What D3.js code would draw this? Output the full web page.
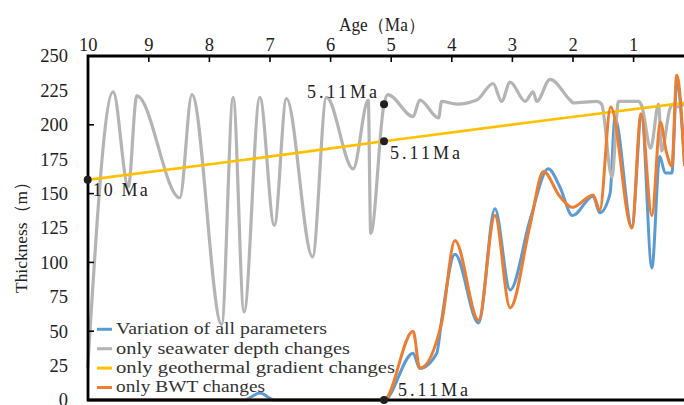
<!DOCTYPE html>
<html>
<head>
<meta charset="utf-8">
<script src="https://cdn.jsdelivr.net/npm/d3@7"></script>
<style>
  body { margin: 0; background: #fff; }
  svg { display: block; font-family: "Liberation Serif", "Times New Roman", serif; }
</style>
</head>
<body>
<svg id="chart" width="684" height="405"></svg>
<script>
// tick labels
const ageTicks = [10, 9, 8, 7, 6, 5, 4, 3, 2, 1];
const thicknessTicks = [0, 25, 50, 75, 100, 125, 150, 175, 200, 225, 250];
const innerTicks = [50, 100, 150, 200];

// Variation of all parameters (age in Ma, thickness in m)
const allAge = [10, 7.42, 7.16, 6.92, 5.11, 4.63, 4.52, 4.24, 4.16, 3.94, 3.55, 3.28, 3.03, 2.70, 2.40, 2.21, 2.00,
  1.66, 1.55, 1.38, 1.30, 1.02, 0.86, 0.69, 0.56, 0.47, 0.36, 0.28, 0.15];
const allVal = [0, 0, 5, 0, 0, 34, 23, 34, 58, 106, 56, 139, 80, 131, 168, 155, 134,
  148, 136, 150, 205, 126, 207, 96, 177, 165, 165, 230, 170];

// only seawater depth changes
const seaAge = [10, 9.58, 9.33, 9.19, 8.48, 8.28, 7.79, 7.60, 7.42, 7.16, 6.92, 6.72, 6.29, 6.06, 5.62, 5.37, 5.33,
  5.11, 5.05, 4.63, 4.52, 4.21, 4.16, 3.91, 3.58, 3.31, 3.17, 3.03, 2.78, 2.65, 2.59, 2.37, 2.04, 1.99,
  1.60, 1.52, 1.35, 1.24, 0.91, 0.86, 0.71, 0.58, 0.53, 0.39, 0.34, 0.28, 0.15];
const seaVal = [23, 224, 155, 221, 147, 222, 55, 220, 64, 220, 127, 219, 104, 220, 168, 218, 121,
  215, 222, 206, 218, 205, 217, 215, 218, 230, 217, 231, 217, 224, 217, 233, 218, 216,
  217, 215, 162, 217, 217, 214, 183, 215, 181, 212, 215, 213, 215];

// only geothermal gradient changes
const geoAge = [10, 7.5, 5.11, 2.5, 0.15];
const geoVal = [160, 174, 188, 203, 216];

// only BWT changes
const bwtAge = [10, 5.11, 4.63, 4.52, 4.16, 3.94, 3.55, 3.28, 3.03, 2.70, 2.48, 2.21, 2.00,
  1.66, 1.55, 1.37, 1.02, 0.87, 0.69, 0.55, 0.45, 0.36, 0.28, 0.15];
const bwtVal = [0, 0, 50, 23, 56, 116, 58, 134, 67, 127, 166, 148, 140,
  149, 138, 213, 125, 208, 134, 202, 180, 170, 236, 170];

// marked points
const markAge = [10, 5.11, 5.11, 5.11];
const markVal = [160, 215, 188, 0];
const markText = ["10 Ma", "5.11Ma", "5.11Ma", "5.11Ma"];

const legendNames = ["Variation of all parameters", "only  seawater depth  changes",
  "only  geothermal  gradient  changes", "only BWT changes"];
const colors = ["#5b9bd5", "#b4b4b4", "#ffc000", "#ed7d31"];

const series = [
  { age: allAge, val: allVal, color: colors[0], w: 3 },
  { age: seaAge, val: seaVal, color: colors[1], w: 3.2 },
  { age: geoAge, val: geoVal, color: colors[2], w: 2.6 },
  { age: bwtAge, val: bwtVal, color: colors[3], w: 3 }
];

const svg = d3.select("#chart");
const plotLeft = 88, plotTop = 56, plotBottom = 400, plotRight = 684;

const x = d3.scaleLinear().domain([10, 0]).range([87.7, 693.7]);
const y = d3.scaleLinear().domain([0, 250]).range([plotBottom, plotTop]);

// curves
const line = d3.line()
  .x(d => x(d[0]))
  .y(d => y(d[1]))
  .curve(d3.curveMonotoneX);

series.forEach(s => {
  svg.append("path")
    .datum(s.age.map((a, i) => [a, s.val[i]]))
    .attr("d", line)
    .attr("fill", "none")
    .attr("stroke", s.color)
    .attr("stroke-width", s.w)
    .attr("stroke-linejoin", "round");
});

// frame
svg.append("path")
  .attr("d", `M${plotRight + 5},${plotTop}H${plotLeft}V${plotBottom}H${plotRight + 5}`)
  .attr("fill", "none")
  .attr("stroke", "#000")
  .attr("stroke-width", 2.8);

// top axis
const xAxis = d3.axisTop(x).tickValues(ageTicks).tickSize(-6).tickPadding(5).tickFormat(d3.format("d"));
const gx = svg.append("g").attr("transform", `translate(0,${plotTop})`).call(xAxis);
gx.select(".domain").remove();
gx.attr("font-family", null).attr("font-size", 18.5);
gx.selectAll(".tick line").attr("stroke", "#000").attr("stroke-width", 1.6);
gx.selectAll("text").attr("fill", "#222");

// left axis labels
const yAxis = d3.axisLeft(y).tickValues(thicknessTicks).tickSize(0).tickPadding(20);
const gy = svg.append("g").attr("transform", `translate(${plotLeft},0)`).call(yAxis);
gy.select(".domain").remove();
gy.attr("font-family", null).attr("font-size", 18.5);
gy.selectAll("text").attr("fill", "#222");

// inner ticks on the left axis
svg.append("g").selectAll("line")
  .data(innerTicks)
  .join("line")
  .attr("x1", plotLeft).attr("x2", plotLeft + 6)
  .attr("y1", d => y(d)).attr("y2", d => y(d))
  .attr("stroke", "#000").attr("stroke-width", 1.6);

// axis titles
svg.append("text")
  .attr("x", 382).attr("y", 31)
  .attr("text-anchor", "middle")
  .attr("font-size", 18).attr("fill", "#222")
  .attr("textLength", 86).attr("lengthAdjust", "spacingAndGlyphs")
  .text("Age（Ma）");

svg.append("text")
  .attr("transform", "translate(27,233) rotate(-90)")
  .attr("text-anchor", "middle")
  .attr("font-size", 17.5).attr("fill", "#222")
  .attr("textLength", 120).attr("lengthAdjust", "spacingAndGlyphs")
  .text("Thickness（m）");

// marked points and their labels
const labelPos = [
  { dx: 5, dy: 16, anchor: "start", len: 55 },
  { dx: -7, dy: -6, anchor: "end", len: 70 },
  { dx: 6, dy: 18, anchor: "start", len: 70 },
  { dx: 14, dy: -4, anchor: "start", len: 70 }
];
svg.append("g").selectAll("circle")
  .data(markAge)
  .join("circle")
  .attr("cx", d => x(d))
  .attr("cy", (d, i) => y(markVal[i]))
  .attr("r", 4)
  .attr("fill", "#231f20");
svg.append("g").selectAll("text")
  .data(markText)
  .join("text")
  .attr("x", (d, i) => x(markAge[i]) + labelPos[i].dx)
  .attr("y", (d, i) => y(markVal[i]) + labelPos[i].dy)
  .attr("text-anchor", (d, i) => labelPos[i].anchor)
  .attr("font-size", 18).attr("fill", "#222")
  .attr("textLength", (d, i) => labelPos[i].len)
  .attr("lengthAdjust", "spacing")
  .text(d => d);

// legend
const legendLen = [211, 234, 279, 149];
const lg = svg.append("g").attr("transform", "translate(97,329.3)");
const items = lg.selectAll("g")
  .data(legendNames)
  .join("g")
  .attr("transform", (d, i) => `translate(0,${i * 19.4})`);
items.append("line")
  .attr("x1", 0).attr("x2", 15)
  .attr("stroke", (d, i) => colors[i])
  .attr("stroke-width", 3);
items.append("text")
  .attr("x", 19).attr("y", 4.8)
  .attr("font-size", 17.5).attr("fill", "#333")
  .attr("textLength", (d, i) => legendLen[i])
  .attr("lengthAdjust", "spacingAndGlyphs")
  .text(d => d);
</script>
</body>
</html>
